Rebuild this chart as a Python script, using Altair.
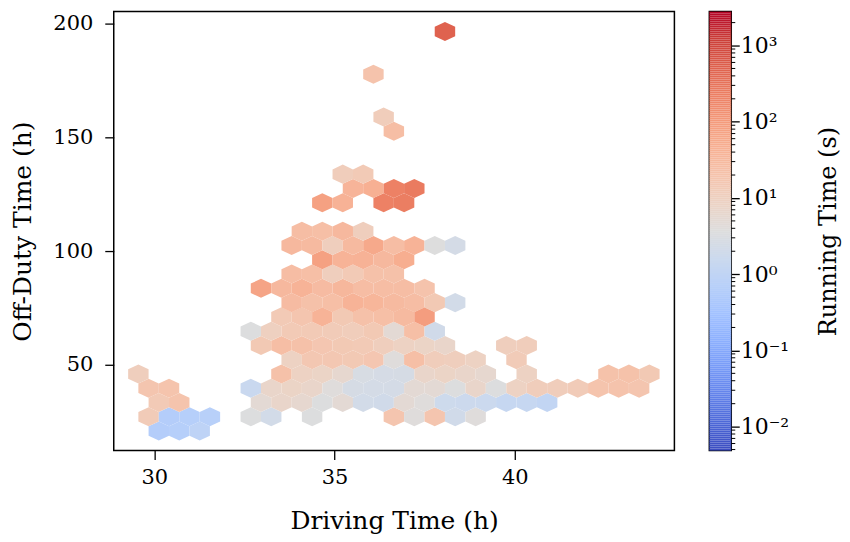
import altair as alt
import pandas as pd
import numpy as np

# ---- hexbin lattice (data units) ----
X_MIN = 29.56      # driving time of lattice column 0
DX = 0.567         # horizontal spacing of hexagons
Y_MIN = 20.9       # off-duty time of lattice row 0
DY = 6.275         # vertical spacing between successive (offset) rows

# ---- bins: row index, column index, running time (s) ----
hex_row = []
hex_col = []
run_time = []

def add(row, cells):
    for c, v in cells:
        hex_row.append(row)
        hex_col.append(c)
        run_time.append(v)

add(0,  [(1, 0.6), (2, 0.65), (3, 0.9)])
add(1,  [(0, 13), (1, 0.6), (2, 0.65), (3, 0.7), (5, 3.5), (6, 2.2), (8, 3.5),
         (12, 18), (13, 4), (14, 18), (15, 2.0), (16, 4)])
add(2,  [(1, 14), (2, 19), (6, 5), (7, 7), (8, 6), (9, 3.5), (10, 5), (11, 2.2),
         (12, 2.0), (13, 5), (14, 4), (15, 1.8), (16, 1.7), (17, 1.6), (18, 1.3),
         (19, 1.3), (20, 1.1)])
add(3,  [(0, 18), (1, 19), (5, 1.5), (6, 7), (7, 8), (8, 7), (9, 4), (10, 2.6),
         (11, 2.4), (12, 2.4), (13, 5), (14, 5), (15, 3.5), (16, 7), (17, 3.5),
         (18, 9), (19, 12), (20, 12), (21, 13), (22, 19), (23, 20), (24, 18)])
add(4,  [(0, 11), (7, 22), (8, 9), (9, 8), (10, 6), (11, 2.8), (12, 2.5), (13, 2.6),
         (14, 7), (15, 8), (16, 7), (17, 6), (19, 9), (23, 21), (24, 21), (25, 15)])
add(5,  [(7, 9), (8, 16), (9, 16), (10, 15), (11, 17), (12, 4), (13, 24), (14, 12),
         (15, 11), (16, 9), (18, 13)])
add(6,  [(6, 15), (7, 25), (8, 22), (9, 17), (10, 15), (11, 14), (12, 11), (13, 9),
         (14, 8), (15, 7), (18, 11), (19, 12)])
add(7,  [(5, 3.5), (6, 10), (7, 14), (8, 14), (9, 13), (10, 12), (11, 15), (12, 5),
         (13, 24), (14, 2.0)])
add(8,  [(7, 14), (8, 18), (9, 40), (10, 15), (11, 22), (12, 24), (13, 30), (14, 90)])
add(9,  [(7, 28), (8, 22), (9, 24), (10, 40), (11, 36), (12, 30), (13, 26), (14, 15),
         (15, 2.2)])
add(10, [(6, 70), (7, 32), (8, 40), (9, 28), (10, 34), (11, 26), (12, 26), (13, 26),
         (14, 20)])
add(11, [(7, 26), (8, 24), (9, 11), (10, 14), (11, 22), (12, 22)])
add(12, [(9, 80), (10, 40), (11, 42), (12, 32), (13, 50)])
add(13, [(7, 32), (8, 30), (9, 11), (10, 30), (11, 60), (12, 26), (13, 40), (14, 3.7),
         (15, 2.4)])
add(14, [(8, 26), (9, 24), (10, 32), (11, 11)])
add(16, [(9, 80), (10, 42), (12, 220), (13, 240)])
add(17, [(10, 38), (11, 45), (12, 220), (13, 260)])
add(18, [(10, 12), (11, 14)])
add(21, [(12, 25)])
add(22, [(12, 12)])
add(25, [(11, 20)])
add(28, [(15, 500)])

hex_df = pd.DataFrame({"row": hex_row, "col": hex_col, "t": run_time})
hex_df["x"] = X_MIN + (hex_df["col"] + 0.5 * (hex_df["row"] % 2)) * DX
hex_df["y"] = Y_MIN + hex_df["row"] * DY

# ---- colour scale (coolwarm, log) ----
C_MIN, C_MAX = 0.00485, 2786.0
coolwarm = ["#3b4cc0", "#4d68d7", "#6282ea", "#779af7", "#8db0fe", "#a3c2ff",
            "#b8d0f9", "#cbd9ee", "#dddddd", "#ecd3c5", "#f5c4ad", "#f7b194",
            "#f49a7b", "#ec7f63", "#de604d", "#cb3e38", "#b40426"]
lo, hi = np.log10(C_MIN), np.log10(C_MAX)
stops = [float(10 ** (lo + k * (hi - lo) / (len(coolwarm) - 1))) for k in range(len(coolwarm))]
cscale = alt.Scale(type="log", domain=stops, range=coolwarm, interpolate="rgb")

FONT = "DejaVu Serif"
HEX = "M0,-0.932L1,-0.466L1,0.466L0,0.932L-1,0.466L-1,-0.466Z"

main = alt.Chart(hex_df).mark_point(
    shape=HEX, filled=True, size=420, opacity=1, strokeWidth=0
).encode(
    x=alt.X("x:Q", scale=alt.Scale(domain=[28.877, 44.43], nice=False, zero=False),
            axis=alt.Axis(values=[30, 35, 40], title="Driving Time (h)", format="d",
                          labelPadding=7, titlePadding=21)),
    y=alt.Y("y:Q", scale=alt.Scale(domain=[12.33, 205.3], nice=False, zero=False),
            axis=alt.Axis(values=[50, 100, 150, 200], title="Off-Duty Time (h)", format="d",
                          labelPadding=12, titlePadding=17)),
    color=alt.Color("t:Q", scale=cscale, legend=None),
).properties(width=562, height=440)

# ---- colour bar ----
N = 220
edges = [float(10 ** (lo + k * (hi - lo) / N)) for k in range(N + 1)]
bar_df = pd.DataFrame({
    "lo": edges[:-1],
    "hi": edges[1:],
    "mid": [float(np.sqrt(a * b)) for a, b in zip(edges[:-1], edges[1:])],
})
cb_y = alt.Scale(type="log", domain=[C_MIN, C_MAX], nice=False)
major = [0.01, 0.1, 1, 10, 100, 1000]
minor = [m * 10.0 ** e for e in range(-3, 4) for m in range(2, 10)
         if C_MIN <= m * 10.0 ** e <= C_MAX]

bar = alt.Chart(bar_df).mark_rect().encode(
    x=alt.value(0), x2=alt.value(22),
    y=alt.Y("lo:Q", scale=cb_y,
            axis=alt.Axis(orient="right", values=major, title="Running Time (s)",
                          labelExpr="['10⁻²','10⁻¹','10⁰','10¹','10²','10³'][round(log(datum.value)/LN10)+2]",
                          titleAngle=270, titleBaseline="top", titlePadding=28,
                          tickSize=8, labelPadding=1, titleFontSize=24, labelFontSize=22)),
    y2="hi:Q",
    color=alt.Color("mid:Q", scale=cscale, legend=None),
)
ticks = alt.Chart(pd.DataFrame({"m": minor})).mark_rule(color="black", strokeWidth=1).encode(
    y=alt.Y("m:Q", scale=cb_y), x=alt.value(22), x2=alt.value(26)
)
cbar = alt.layer(bar, ticks).properties(width=22, height=440)

chart = alt.hconcat(main, cbar, spacing=33).properties(
    padding={"left": 2, "top": 2, "right": 0, "bottom": 0}
).configure_view(
    stroke="black", strokeWidth=1.5
).configure_axis(
    labelFont=FONT, titleFont=FONT, labelFontSize=21, titleFontSize=25,
    titleFontWeight="normal", labelColor="black", titleColor="black",
    tickColor="black", tickSize=9, tickWidth=1.3, domain=False, grid=False,
)

chart.save("out.html", embed_options={"renderer": "svg", "actions": False})
